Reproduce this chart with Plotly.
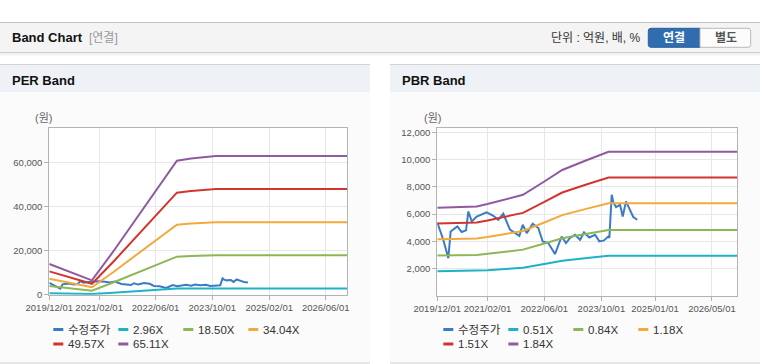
import plotly.graph_objects as go

# ---------------- data ----------------
price_dates = ["2019-12-01", "2020-01-21", "2020-03-04", "2020-03-24", "2020-05-20", "2020-06-26",
               "2020-08-02", "2020-08-22", "2020-09-20", "2020-11-01", "2021-01-25", "2021-03-23",
               "2021-05-04", "2021-06-16", "2021-08-12", "2021-09-24", "2021-10-31", "2021-11-29",
               "2022-01-02", "2022-02-22", "2022-04-11", "2022-05-18", "2022-07-05", "2022-08-31",
               "2022-10-27", "2022-12-03", "2023-01-06", "2023-02-18", "2023-04-02", "2023-05-06",
               "2023-06-20", "2023-08-08", "2023-09-13", "2023-10-23", "2023-11-29", "2023-12-08",
               "2023-12-28", "2024-01-11", "2024-02-03", "2024-03-08", "2024-03-31", "2024-04-28",
               "2024-06-07", "2024-06-29", "2024-08-02"]
price = [5380, 4110, 2760, 4720, 5090, 4680,
         4800, 6190, 5460, 5820, 6120, 5870,
         5580, 6020, 4850, 4600, 4400, 5210,
         4600, 5290, 4970, 3990, 3870, 3060,
         4350, 3870, 4240, 4480, 4110, 4650,
         4280, 4480, 3990, 4060, 4350, 4240,
         7420, 6850, 6510, 6680, 5820, 6930,
         6190, 5780, 5580]

per_dates = ["2019-12-01", "2020-04-01", "2020-08-01", "2020-12-01", "2021-06-01", "2021-12-01",
             "2022-06-01", "2022-12-01", "2023-04-01", "2023-09-01", "2023-11-01", "2026-12-01"]
per_296 = [633, 518, 400, 296, 888, 1510, 2131, 2768, 2812, 2842, 2865, 2865]
per_1850 = [3959, 3238, 2498, 1850, 5550, 9435, 13320, 17298, 17575, 17760, 17908, 17908]
per_3404 = [7285, 5957, 4595, 3404, 10212, 17360, 24509, 31827, 32338, 32678, 32951, 32951]
per_4957 = [10608, 8675, 6692, 4957, 14871, 25281, 35690, 46348, 47092, 47587, 47984, 47984]
per_6511 = [13934, 11394, 8790, 6511, 19533, 33206, 46879, 60878, 61855, 62506, 63026, 63026]

pbr_dates = ["2019-12-01", "2020-06-01", "2020-11-01", "2021-02-01", "2021-07-01", "2021-12-01",
             "2022-06-01", "2022-11-01", "2023-06-01", "2023-12-01", "2026-12-01"]
pbr_051 = [1791, 1800, 1818, 1867, 1958, 2055, 2326, 2560, 2764, 2933, 2933]
pbr_084 = [2949, 2965, 2995, 3074, 3226, 3385, 3830, 4217, 4553, 4830, 4830]
pbr_118 = [4143, 4165, 4207, 4319, 4531, 4755, 5381, 5924, 6396, 6785, 6785]
pbr_151 = [5302, 5330, 5383, 5527, 5798, 6085, 6886, 7580, 8184, 8683, 8683]
pbr_184 = [6460, 6495, 6560, 6734, 7066, 7415, 8390, 9237, 9973, 10580, 10580]

per_names = ["수정주가", "2.96X", "18.50X", "34.04X", "49.57X", "65.11X"]
pbr_names = ["수정주가", "0.51X", "0.84X", "1.18X", "1.51X", "1.84X"]
colors = ["#3a7bc8", "#1db2c6", "#8db654", "#f3a93c", "#d2352d", "#8f5a9f"]

per_xticks = ["2019-12-01", "2021-02-01", "2022-06-01", "2023-10-01", "2025-02-01", "2026-06-01"]
per_xtext = ["2019/12/01", "2021/02/01", "2022/06/01", "2023/10/01", "2025/02/01", "2026/06/01"]
pbr_xticks = ["2019-12-01", "2021-02-01", "2022-06-01", "2023-10-01", "2025-01-01", "2026-05-01"]
pbr_xtext = ["2019/12/01", "2021/02/01", "2022/06/01", "2023/10/01", "2025/01/01", "2026/05/01"]
per_yticks = [0, 20000, 40000, 60000]
pbr_yticks = [2000, 4000, 6000, 8000, 10000, 12000]

# ---------------- figure ----------------
W, H = 760, 364
FONT = "Liberation Sans, Arial, Noto Sans CJK KR, sans-serif"


def px(x):
    return x / W


def py(y):
    return 1 - y / H


fig = go.Figure()

per_series = [per_296, per_1850, per_3404, per_4957, per_6511]
pbr_series = [pbr_051, pbr_084, pbr_118, pbr_151, pbr_184]

fig.add_trace(go.Scatter(x=price_dates, y=price, mode="lines", name=per_names[0],
                         line=dict(color=colors[0], width=2), xaxis="x", yaxis="y",
                         showlegend=False))
for i, s in enumerate(per_series):
    fig.add_trace(go.Scatter(x=per_dates, y=s, mode="lines", name=per_names[i + 1],
                             line=dict(color=colors[i + 1], width=2), xaxis="x", yaxis="y",
                             showlegend=False))
fig.add_trace(go.Scatter(x=price_dates, y=price, mode="lines", name=pbr_names[0],
                         line=dict(color=colors[0], width=2), xaxis="x2", yaxis="y2",
                         showlegend=False))
for i, s in enumerate(pbr_series):
    fig.add_trace(go.Scatter(x=pbr_dates, y=s, mode="lines", name=pbr_names[i + 1],
                             line=dict(color=colors[i + 1], width=2), xaxis="x2", yaxis="y2",
                             showlegend=False))

axis_common = dict(showgrid=True, gridcolor="#e7e7e7", gridwidth=1, showline=True,
                   linecolor="#b3b3b3", linewidth=1, mirror=True, ticks="outside", ticklen=4,
                   tickcolor="#b3b3b3", tickfont=dict(size=9.5, color="#555555", family=FONT),
                   zeroline=False, fixedrange=True, tickangle=0, automargin=False)

fig.update_layout(
    width=W, height=H, autosize=False,
    margin=dict(l=0, r=0, t=0, b=0, pad=0, autoexpand=False),
    paper_bgcolor="#ffffff", plot_bgcolor="#ffffff",
    font=dict(family=FONT),
    hovermode=False,
    xaxis=dict(domain=[px(49.3), px(347)], anchor="y", type="date",
               range=["2019-12-01", "2026-12-01"], tickmode="array",
               tickvals=per_xticks, ticktext=per_xtext, **axis_common),
    yaxis=dict(domain=[py(294.7), py(128.3)], anchor="x", range=[0, 75600],
               tickmode="array", tickvals=per_yticks, tickformat=",d", **axis_common),
    xaxis2=dict(domain=[px(437.3), px(737)], anchor="y2", type="date",
                range=["2019-12-01", "2026-12-01"], tickmode="array",
                tickvals=pbr_xticks, ticktext=pbr_xtext, **axis_common),
    yaxis2=dict(domain=[py(295.7), py(128.3)], anchor="x2", range=[0, 12300],
                tickmode="array", tickvals=pbr_yticks, tickformat=",d", **axis_common),
)

shapes = []


def rect(x0, y0, x1, y1, fill, line=None, lw=0):
    shapes.append(dict(type="rect", xref="paper", yref="paper", x0=px(x0), x1=px(x1),
                       y0=py(y1), y1=py(y0), fillcolor=fill,
                       line=dict(color=line or fill, width=lw), layer="below"))


def hline(x0, x1, y, color, w=1):
    shapes.append(dict(type="line", xref="paper", yref="paper", x0=px(x0), x1=px(x1),
                       y0=py(y), y1=py(y), line=dict(color=color, width=w), layer="below"))


# header bar
rect(0, 22, 760, 52.5, "#f4f4f4")
hline(0, 760, 22.5, "#c4c4c4")
hline(0, 760, 52.5, "#cfcfcf")
rect(0, 53, 760, 55.5, "rgba(0,0,0,0.05)")

# buttons
shapes.append(dict(type="path", xref="paper", yref="paper",
                   path=f"M {px(700)},{py(28.3)} L {px(651)},{py(28.3)} Q {px(648.3)},{py(28.3)} {px(648.3)},{py(31)} "
                        f"L {px(648.3)},{py(44.6)} Q {px(648.3)},{py(47.3)} {px(651)},{py(47.3)} L {px(700)},{py(47.3)} Z",
                   fillcolor="#2f6db0", line=dict(color="#285f9c", width=1), layer="below"))
shapes.append(dict(type="path", xref="paper", yref="paper",
                   path=f"M {px(700)},{py(28.3)} L {px(748)},{py(28.3)} Q {px(750.7)},{py(28.3)} {px(750.7)},{py(31)} "
                        f"L {px(750.7)},{py(44.6)} Q {px(750.7)},{py(47.3)} {px(748)},{py(47.3)} L {px(700)},{py(47.3)} Z",
                   fillcolor="#fcfcfc", line=dict(color="#b9b9b9", width=1), layer="below"))

# panels
for (a, b) in [(0, 370), (390, 760)]:
    rect(a, 64, b, 92.5, "#eef1f6")
    rect(a, 92.5, b, 363, "#fbfbfb")
    hline(a, b, 64.5, "#d3d3d3")
    hline(a, b, 363, "#d0d0d0")

# white plot areas
rect(49.3, 128.3, 347, 294.7, "#ffffff")
rect(437.3, 128.3, 737, 295.7, "#ffffff")

annotations = []


def text(x, y, s, size, color, anchor="left", bold=False):
    annotations.append(dict(xref="paper", yref="paper", x=px(x), y=py(y),
                            text=f"<b>{s}</b>" if bold else s, showarrow=False,
                            xanchor=anchor, yanchor="middle",
                            font=dict(size=size, color=color, family=FONT)))


text(10, 38, "Band Chart", 13, "#111111", bold=True)
text(87, 38, "[연결]", 12, "#999999")
text(643, 38, "단위 : 억원, 배, %", 12, "#333333", anchor="right")
text(674, 38, "연결", 12, "#ffffff", anchor="center", bold=True)
text(725.5, 38, "별도", 12, "#555555", anchor="center", bold=True)
text(10, 80.5, "PER Band", 13, "#111111", bold=True)
text(400, 80.5, "PBR Band", 13, "#111111", bold=True)
text(43, 118.3, "(원)", 11, "#666666", anchor="center")
text(432, 118.3, "(원)", 11, "#666666", anchor="center")

# manual legends
leg_slots = [(0, 329.5), (1, 329.5), (2, 329.5), (3, 329.5), (0, 344), (1, 344)]
for base, names in [(53.3, per_names), (443.3, pbr_names)]:
    for i, name in enumerate(names):
        col, yy = leg_slots[i]
        x0 = base + col * 65
        shapes.append(dict(type="line", xref="paper", yref="paper", x0=px(x0), x1=px(x0 + 10),
                           y0=py(yy), y1=py(yy), line=dict(color=colors[i], width=3)))
        text(x0 + 12.5, yy, name, 11.5, "#333333")

fig.update_layout(shapes=shapes, annotations=annotations)

fig.write_html("out.html", include_plotlyjs=True,
               config={"displayModeBar": False, "staticPlot": True},
               post_script="document.body.style.margin='0';document.body.style.overflow='hidden';")
